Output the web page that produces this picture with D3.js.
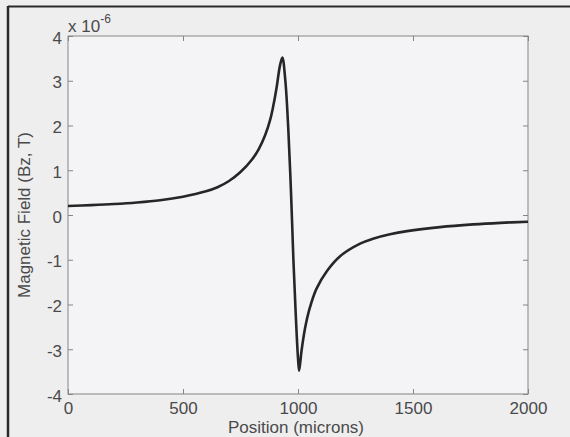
<!DOCTYPE html>
<html>
<head>
<meta charset="utf-8">
<script src="https://cdn.jsdelivr.net/npm/d3@7"></script>
<style>
  html, body { margin: 0; padding: 0; background: #eeeeef; }
  svg { display: block; }
</style>
</head>
<body>
<svg id="chart" width="570" height="437"></svg>
<script>
// Position (microns)
const positions = [0, 100, 200, 300, 400, 500, 600, 650, 700, 750, 800, 830, 857, 880, 893, 907, 922, 932,
  945, 958, 970, 980, 990, 1000, 1005, 1015, 1030, 1050, 1080, 1126, 1183, 1270, 1326, 1400, 1474, 1617, 1761, 1880, 2000];
// Bz (units of 1e-6 T)
const field = [0.20, 0.22, 0.245, 0.28, 0.33, 0.41, 0.53, 0.62, 0.76, 0.96, 1.24, 1.48, 1.78, 2.15, 2.45, 2.85, 3.35, 3.52,
  3.00, 1.90, 0.45, -1.00, -2.20, -3.20, -3.48, -3.05, -2.55, -2.10, -1.65, -1.25, -0.92, -0.64, -0.53, -0.43, -0.36, -0.27, -0.21, -0.175, -0.15];
const xTicks = [0, 500, 1000, 1500, 2000];
const yTicks = [-4, -3, -2, -1, 0, 1, 2, 3, 4];
const xLabel = "Position (microns)";
const yLabel = "Magnetic Field (Bz, T)";

const svg = d3.select("#chart");
const L = 68, R = 528, T = 36, B = 394;
const x = d3.scaleLinear().domain([0, 2000]).range([L, R]);
const y = d3.scaleLinear().domain([-4, 4]).range([B, T]);

// scanned page frame
svg.append("line").attr("x1", 8).attr("y1", 6.5).attr("x2", 570).attr("y2", 6.5)
  .attr("stroke", "#2a2a2a").attr("stroke-width", 2);
svg.append("line").attr("x1", 8).attr("y1", 6).attr("x2", 8).attr("y2", 437)
  .attr("stroke", "#2a2a2a").attr("stroke-width", 2.5);

// axes box background
svg.append("rect").attr("x", L).attr("y", T).attr("width", R - L).attr("height", B - T)
  .attr("fill", "#f4f4f6");

const font = "'Liberation Sans', Arial, sans-serif";
const axisColor = "#858585";
const textColor = "#4a4a4a";
const fmt = d => String(d);

function styleAxis(g) {
  g.select(".domain").remove();
  g.selectAll(".tick line").attr("stroke", axisColor).attr("stroke-width", 1);
  g.selectAll(".tick text").attr("fill", textColor).attr("font-family", font).attr("font-size", 17);
}

// bottom axis
svg.append("g").attr("transform", `translate(0,${B})`)
  .call(d3.axisBottom(x).tickValues(xTicks).tickSize(-5).tickPadding(8).tickFormat(fmt))
  .call(styleAxis);
// top axis (ticks only)
svg.append("g").attr("transform", `translate(0,${T})`)
  .call(d3.axisTop(x).tickValues(xTicks).tickSize(-5).tickFormat(""))
  .call(styleAxis);
// left axis
svg.append("g").attr("transform", `translate(${L},0)`)
  .call(d3.axisLeft(y).tickValues(yTicks).tickSize(-5).tickPadding(6).tickFormat(fmt))
  .call(styleAxis)
  .selectAll(".tick text").attr("dy", "0.42em");
// right axis (ticks only)
svg.append("g").attr("transform", `translate(${R},0)`)
  .call(d3.axisRight(y).tickValues(yTicks).tickSize(-5).tickFormat(""))
  .call(styleAxis);

// box
svg.append("rect").attr("x", L).attr("y", T).attr("width", R - L).attr("height", B - T)
  .attr("fill", "none").attr("stroke", axisColor).attr("stroke-width", 1);

// exponent
const ex = svg.append("text").attr("x", L).attr("y", 32)
  .attr("font-family", font).attr("font-size", 17).attr("fill", textColor);
ex.append("tspan").text("x 10");
ex.append("tspan").attr("font-size", 12).attr("dy", -9).text("-6");

// curve
const pts = positions.map((p, i) => [p, field[i]]);
svg.append("path").datum(pts)
  .attr("fill", "none").attr("stroke", "#262626").attr("stroke-width", 2.6)
  .attr("stroke-linejoin", "round")
  .attr("d", d3.line().x(d => x(d[0])).y(d => y(d[1])).curve(d3.curveCatmullRom.alpha(0.5)));

// labels
svg.append("text").attr("x", 296).attr("y", 433).attr("text-anchor", "middle")
  .attr("font-family", font).attr("font-size", 17).attr("fill", textColor).text(xLabel);
svg.append("text").attr("transform", `translate(30,${(T + B) / 2}) rotate(-90)`)
  .attr("text-anchor", "middle")
  .attr("font-family", font).attr("font-size", 17).attr("fill", textColor).text(yLabel);
</script>
</body>
</html>
